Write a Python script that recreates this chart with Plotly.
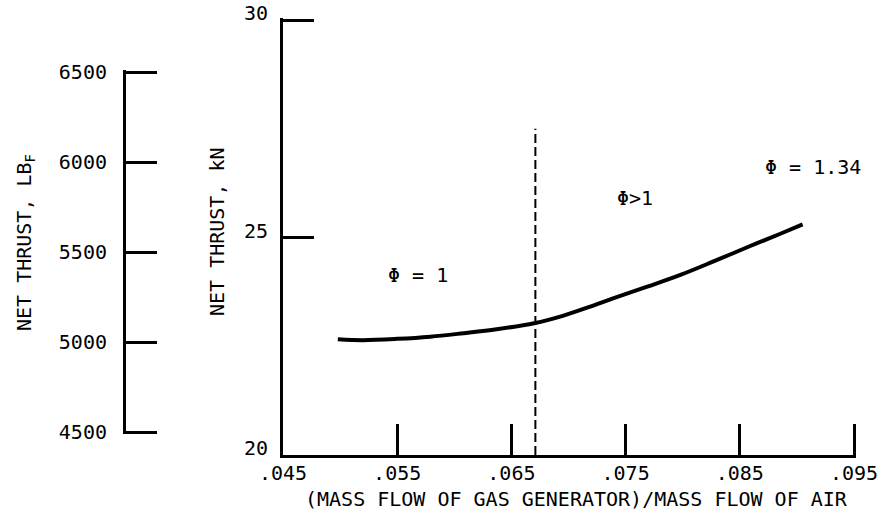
import plotly.graph_objects as go

# ---- data ----
mass_ratio = [0.0498, 0.0520, 0.0550, 0.0579, 0.0608, 0.0637, 0.0670, 0.0695,
              0.0719, 0.0739, 0.0769, 0.0798, 0.0827, 0.0856, 0.0885, 0.0905]
thrust_kn = [22.66, 22.64, 22.67, 22.72, 22.80, 22.89, 23.03, 23.20,
             23.41, 23.60, 23.87, 24.14, 24.45, 24.77, 25.08, 25.30]
boundary_x = [0.0671, 0.0671]
boundary_y = [20.0, 27.5]
x_ticks = [0.045, 0.055, 0.065, 0.075, 0.085, 0.095]
x_ticktext = [".045", ".055", ".065", ".075", ".085", ".095"]
kn_ticks = [20, 25, 30]
lbf_ticks = [4500, 5000, 5500, 6000, 6500]

W, H = 881, 530
FONT = "DejaVu Sans Mono"
FS = 20
EDGE = 2  # px of axis beyond an end tick so plotly keeps that inside tick

def px(x):
    return x / W

def py(y):
    return 1 - y / H

def padded(lo, hi, p_lo, p_hi, pad_lo, pad_hi):
    """range padded by pad_lo / pad_hi pixels given pixel positions of lo and hi"""
    per_px = (hi - lo) / abs(p_hi - p_lo)
    return [lo - pad_lo * per_px, hi + pad_hi * per_px]

fig = go.Figure()
fig.add_trace(go.Scatter(x=mass_ratio, y=thrust_kn, mode="lines",
                         line=dict(color="black", width=4, shape="spline"),
                         showlegend=False, hoverinfo="skip"))
fig.add_trace(go.Scatter(x=boundary_x, y=boundary_y, mode="lines",
                         line=dict(color="black", width=2, dash="9px,4px"),
                         showlegend=False, hoverinfo="skip"))
# invisible helper trace so the secondary (lbf) scale is drawn
fig.add_trace(go.Scatter(x=[0.5] * len(lbf_ticks), y=lbf_ticks, mode="markers",
                         marker=dict(opacity=0), xaxis="x2", yaxis="y2",
                         showlegend=False, hoverinfo="skip"))

axis_common = dict(ticks="inside", ticklen=31, tickwidth=3, tickcolor="black",
                   showline=True, linewidth=3, linecolor="black",
                   showgrid=False, zeroline=False, automargin=False,
                   tickfont=dict(family=FONT, size=FS, color="black"))

fig.update_layout(
    template="none",
    width=W, height=H,
    margin=dict(l=0, r=0, t=0, b=0, pad=0, autoexpand=False),
    paper_bgcolor="white", plot_bgcolor="rgba(0,0,0,0)",
    font=dict(family=FONT, size=FS, color="black"),
    xaxis=dict(domain=[px(283), px(854 + EDGE)],
               range=padded(x_ticks[0], x_ticks[-1], 283, 854, 0, EDGE),
               tickvals=x_ticks, ticktext=x_ticktext, anchor="y",
               ticklabelstandoff=-2, **axis_common),
    yaxis=dict(domain=[py(455), py(20 - EDGE)],
               range=padded(kn_ticks[0], kn_ticks[-1], 455, 20, 0, EDGE),
               tickvals=kn_ticks, anchor="x",
               ticklabelstandoff=8, ticklabelshift=-7, **axis_common),
    xaxis2=dict(domain=[px(126), px(160)], range=[0, 1], visible=False,
                anchor="y2", automargin=False),
    yaxis2=dict(domain=[py(432 + EDGE), py(72 - EDGE)],
                range=padded(lbf_ticks[0], lbf_ticks[-1], 432, 72, EDGE, EDGE),
                tickvals=lbf_ticks, anchor="x2",
                ticklabelstandoff=12, **axis_common),
)

annotations = [
    dict(text="(MASS FLOW OF GAS GENERATOR)/MASS FLOW OF AIR", x=px(576), y=py(499)),
    dict(text="NET THRUST, kN", x=px(217), y=py(232), textangle=-90),
    dict(text="NET THRUST, LB<sub>F</sub>", x=px(25), y=py(243), textangle=-90),
    dict(text="Φ = 1", x=px(418), y=py(275)),
    dict(text="Φ>1", x=px(635), y=py(198)),
    dict(text="Φ = 1.34", x=px(813), y=py(167)),
]
for a in annotations:
    fig.add_annotation(xref="paper", yref="paper", showarrow=False,
                       xanchor="center", yanchor="middle",
                       font=dict(family=FONT, size=FS, color="black"), **a)

fig.write_html("out.html")
